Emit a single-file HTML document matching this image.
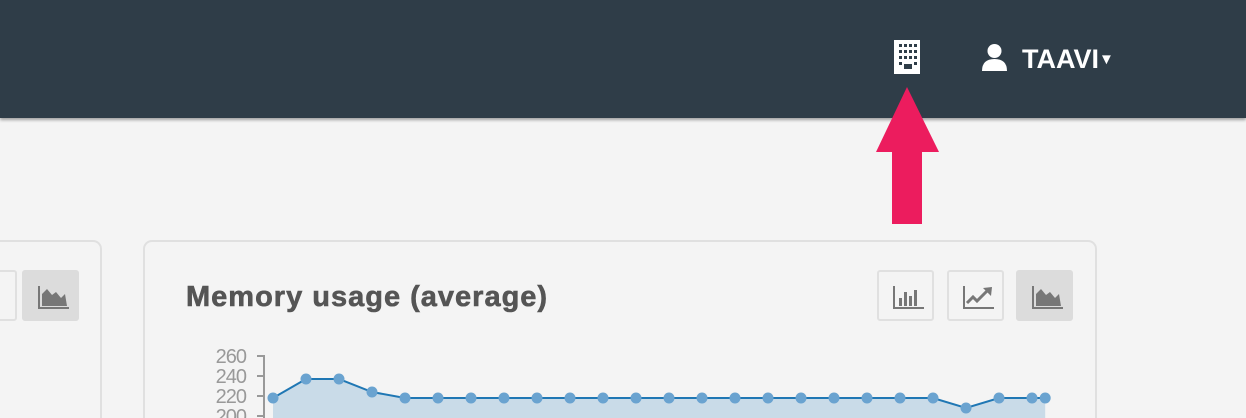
<!DOCTYPE html>
<html style="overflow:hidden;height:418px"><head><meta charset="utf-8"><style>
body{margin:0;width:1246px;height:418px;overflow:hidden;background:#f4f4f4;font-family:"Liberation Sans",sans-serif}
#wrap{position:relative;width:1246px;height:418px;overflow:hidden}
.hdr{position:absolute;left:0;top:0;width:1246px;height:118px;background:#2f3d48;box-shadow:0 2px 3px rgba(0,0,0,.35)}
.card{position:absolute;top:240px;border:2px solid #e0e0e0;border-bottom:none;border-radius:9px 9px 0 0;background:#f4f4f4;height:176px}
.btn{position:absolute;width:57px;height:51px;border:2px solid #e0e0e0;border-radius:3px;box-sizing:border-box;top:270px}
.btn.on{background:#dcdcdc;border-color:#dcdcdc}
.btn svg{position:absolute;left:14px;top:12px}
</style></head><body><div id="wrap">
<div class="hdr">
 <svg style="position:absolute;left:894px;top:40px" width="26" height="34" viewBox="0 0 26 34">
  <rect x="0" y="0" width="26" height="34" fill="#fff"/>
  <g fill="#2f3d48">
   <rect x="5" y="4" width="3" height="3"/><rect x="10" y="4" width="3" height="3"/><rect x="15" y="4" width="3" height="3"/><rect x="20" y="4" width="3" height="3"/>
   <rect x="5" y="10" width="3" height="3"/><rect x="10" y="10" width="3" height="3"/><rect x="15" y="10" width="3" height="3"/><rect x="20" y="10" width="3" height="3"/>
   <rect x="5" y="16" width="3" height="3"/><rect x="10" y="16" width="3" height="3"/><rect x="15" y="16" width="3" height="3"/><rect x="20" y="16" width="3" height="3"/>
   <rect x="5" y="22" width="3" height="3"/><rect x="20" y="22" width="3" height="3"/><rect x="10" y="24" width="8" height="5"/>
  </g>
 </svg>
 <svg style="position:absolute;left:981px;top:43px" width="27" height="28" viewBox="0 0 27 28">
  <circle cx="13.5" cy="8" r="7" fill="#fff"/><path d="M1 28 Q1 16 13.5 16 Q26 16 26 28 Z" fill="#fff"/>
 </svg>
 <div style="position:absolute;left:1022px;top:43px;color:#fff;font-weight:bold;font-size:27px;line-height:32px">TAAVI<span style="font-size:15px;vertical-align:4px">▼</span></div>
</div>
<svg style="position:absolute;left:0;top:0" width="1246" height="418"><polygon points="907,87 939,152 922,152 922,224 892,224 892,152 876,152" fill="#ec1c5e"/></svg>
<div class="card" style="left:-20px;width:118px"></div>
<div class="btn" style="left:-40px;top:270px"></div>
<div class="btn on" style="left:22px">
 <svg width="32" height="26" viewBox="0 0 32 26"><path d="M1 2V24H31" stroke="#777" stroke-width="2" fill="none"/><path d="M4 22V10L9 5L14 11L18 8L23 14L27 10L29 22Z" fill="#777"/></svg>
</div>
<div class="card" style="left:143px;width:950px"></div>
<div style="position:absolute;left:186px;top:281px;font-size:29px;font-weight:bold;color:#555;letter-spacing:1px;-webkit-text-stroke:0.6px #555">Memory usage (average)</div>
<div class="btn" style="left:877px">
 <svg width="32" height="26" viewBox="0 0 32 26"><path d="M1 2V24H31" stroke="#777" stroke-width="2" fill="none"/><g fill="#777"><rect x="6" y="14" width="3" height="8"/><rect x="11" y="8" width="3" height="14"/><rect x="16" y="12" width="3" height="10"/><rect x="21" y="6" width="3" height="16"/></g></svg>
</div>
<div class="btn" style="left:947px">
 <svg width="32" height="26" viewBox="0 0 32 26"><path d="M1 2V24H31" stroke="#777" stroke-width="2" fill="none"/><path d="M4 19L10 13L14 17L24 7" stroke="#777" stroke-width="3" fill="none"/><polygon points="20,4 29,3 28,12" fill="#777"/></svg>
</div>
<div class="btn on" style="left:1016px">
 <svg width="32" height="26" viewBox="0 0 32 26"><path d="M1 2V24H31" stroke="#777" stroke-width="2" fill="none"/><path d="M4 22V10L9 5L14 11L18 8L23 14L27 10L29 22Z" fill="#777"/></svg>
</div>
<svg id="chart" style="position:absolute;left:0;top:0" width="1246" height="418"></svg>
</div>
<script>
const xs=[0,1,2,3,4,5,6,7,8,9,10,11,12,13,14,15,16,17,18,19,20,21,22,23,23.4];
const values=[218,237,237,224,218,218,218,218,218,218,218,218,218,218,218,218,218,218,218,218,218,208,218,218,218];
const yTicks=[260,240,220,200];
const NS="http://www.w3.org/2000/svg";
const svg=document.getElementById('chart');
const X=v=>273+v*(1032-273)/23;
const Y=v=>356+(260-v)*1.0;
function mk(t,a){const e=document.createElementNS(NS,t);for(const k in a)e.setAttribute(k,a[k]);svg.appendChild(e);return e;}
const axis=mk('path',{d:'M257 356H264V418',stroke:'#999','stroke-width':2,fill:'none'});


yTicks.forEach(t=>{
 const tx=mk('text',{x:246,y:Y(t)+7,'text-anchor':'end','font-size':20,fill:'#999','font-family':'Liberation Sans, sans-serif','letter-spacing':'-1'});
 tx.textContent=t;
 
 
 const tk=mk('line',{x1:257,x2:264,y1:Y(t),y2:Y(t),stroke:'#999','stroke-width':2});
 
 
});
let d='M'+X(xs[0])+' 418';
xs.forEach((x,i)=>d+='L'+X(x)+' '+Y(values[i]));
d+='L'+X(xs[xs.length-1])+' 418Z';
const area=mk('path',{d:d,fill:'#c9dbe8'});


const line=mk('polyline',{points:xs.map((x,i)=>X(x)+','+Y(values[i])).join(' '),fill:'none',stroke:'#1f77b4','stroke-width':2});


xs.forEach((x,i)=>{
 const c=mk('circle',{cx:X(x),cy:Y(values[i]),r:5.5,fill:'#6aa3d0'});
 
 
});
</script>
</body></html>
